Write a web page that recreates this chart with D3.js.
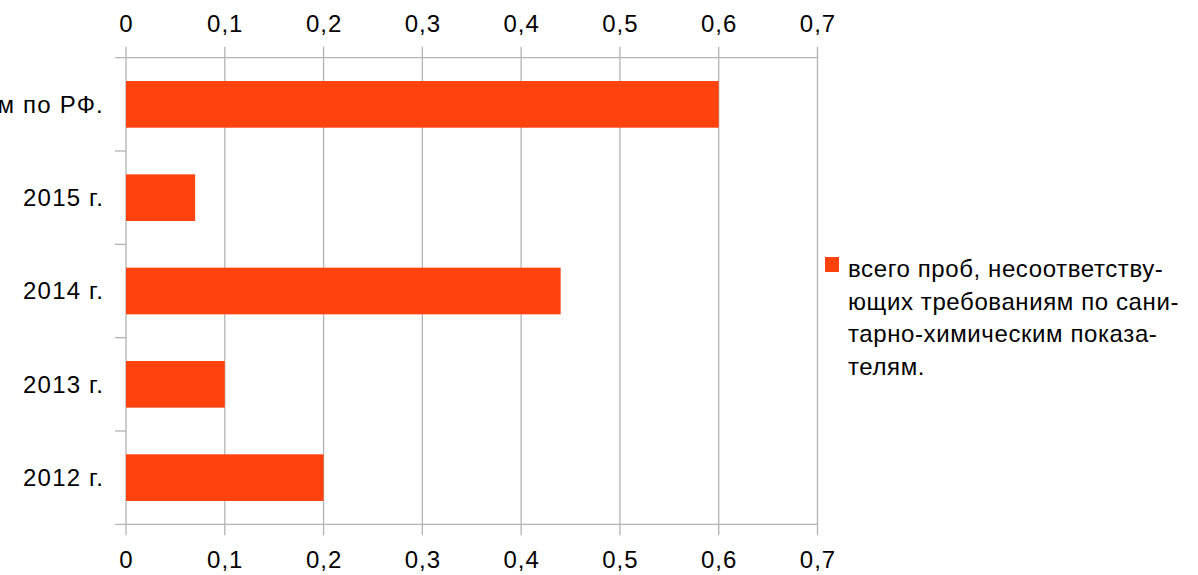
<!DOCTYPE html>
<html>
<head>
<meta charset="utf-8">
<script src="https://cdn.jsdelivr.net/npm/d3@7"></script>
<style>
  html, body { margin: 0; padding: 0; background: #fff; }
  svg { display: block; font-family: "Liberation Sans", Arial, sans-serif; }
</style>
</head>
<body>
<svg id="chart" width="1198" height="575"></svg>
<script>
// Categories, top to bottom
const categories = ["в среднем по РФ.", "2015 г.", "2014 г.", "2013 г.", "2012 г."];
// Share of non-compliant samples
const values = [0.6, 0.07, 0.44, 0.1, 0.2];
const tickValues = [0, 0.1, 0.2, 0.3, 0.4, 0.5, 0.6, 0.7];
const seriesName = ["всего проб, несоответству-", "ющих требованиям по сани-", "тарно-химическим показа-", "телям."];

(function draw() {
  const svg = d3.select("#chart");
  const plotLeft = 126, plotRight = 817.5, plotTop = 57.7, plotBottom = 524.3;
  const gridColor = "#b3b3b3";
  const barColor = "#ff420e";
  const axisFont = 24;
  const legendFont = 24;
  const family = "Liberation Sans, Arial, sans-serif";

  const ru = d3.formatLocale({ decimal: ",", thousands: " ", grouping: [3], currency: ["", " ₽"] });
  const fmt = ru.format(".1~f");

  const x = d3.scaleLinear().domain([0, 0.7]).range([plotLeft, plotRight]);
  const y = d3.scaleBand().domain(categories).range([plotTop, plotBottom])
    .paddingInner(0.5).paddingOuter(0.25);

  // Vertical gridlines, extending slightly past the plot as tick marks
  svg.append("g").selectAll("line").data(tickValues).join("line")
    .attr("x1", d => x(d)).attr("x2", d => x(d))
    .attr("y1", plotTop - 11).attr("y2", plotBottom + 11)
    .attr("stroke", gridColor).attr("stroke-width", 1.3);

  // Top and bottom frame lines
  [plotTop, plotBottom].forEach(yy => {
    svg.append("line").attr("x1", plotLeft - 11).attr("x2", plotRight)
      .attr("y1", yy).attr("y2", yy)
      .attr("stroke", gridColor).attr("stroke-width", 1.3);
  });

  // Category separators on the left axis
  const step = (plotBottom - plotTop) / categories.length;
  d3.range(1, categories.length).forEach(i => {
    svg.append("line").attr("x1", plotLeft - 11).attr("x2", plotLeft)
      .attr("y1", plotTop + i * step).attr("y2", plotTop + i * step)
      .attr("stroke", gridColor).attr("stroke-width", 1.3);
  });

  // Bars
  svg.append("g").selectAll("rect").data(values).join("rect")
    .attr("x", x(0))
    .attr("y", (d, i) => y(categories[i]))
    .attr("width", d => x(d) - x(0))
    .attr("height", y.bandwidth())
    .attr("fill", barColor);

  // Value axis labels, top and bottom
  const topAxis = d3.axisTop(x).tickValues(tickValues).tickFormat(fmt).tickSize(0).tickPadding(0);
  const botAxis = d3.axisBottom(x).tickValues(tickValues).tickFormat(fmt).tickSize(0).tickPadding(0);
  const gTop = svg.append("g").attr("transform", `translate(0,${plotTop})`).call(topAxis);
  const gBot = svg.append("g").attr("transform", `translate(0,${plotBottom})`).call(botAxis);
  [gTop, gBot].forEach(g => {
    g.select(".domain").remove();
    g.selectAll(".tick line").remove();
    g.selectAll("text").attr("font-size", axisFont).attr("fill", "#000")
      .attr("font-family", family).attr("letter-spacing", 1);
  });
  gTop.selectAll("text").attr("dy", null).attr("y", 32 - plotTop);
  gBot.selectAll("text").attr("dy", null).attr("y", 568 - plotBottom);

  // Category labels
  const yAxis = d3.axisLeft(y).tickSize(0).tickPadding(0);
  const gY = svg.append("g").attr("transform", "translate(104,0)").call(yAxis);
  gY.select(".domain").remove();
  gY.selectAll(".tick line").remove();
  gY.selectAll("text").attr("font-size", axisFont).attr("fill", "#000")
    .attr("font-family", family).attr("x", 0).attr("dy", "0.35em")
    .attr("letter-spacing", 1.2);

  // Legend
  svg.append("rect").attr("x", 825).attr("y", 257).attr("width", 14).attr("height", 15).attr("fill", barColor);
  svg.append("g").selectAll("text").data(seriesName).join("text")
    .attr("x", 848).attr("y", (d, i) => 277 + i * 32.5)
    .attr("font-size", legendFont).attr("font-family", family).attr("fill", "#000")
    .attr("letter-spacing", 0.6)
    .text(d => d);
})();
</script>
</body>
</html>
